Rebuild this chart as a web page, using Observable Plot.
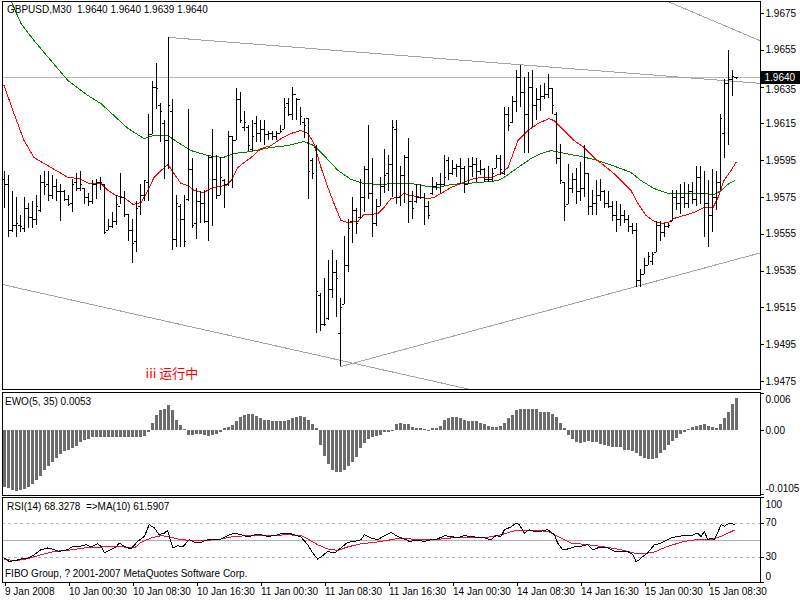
<!DOCTYPE html>
<html><head><meta charset="utf-8">
<script src="https://cdn.jsdelivr.net/npm/d3@7"></script>
<script src="https://cdn.jsdelivr.net/npm/@observablehq/plot@0.6"></script>
<style>
html,body{margin:0;padding:0;background:#fff;}
#chart{position:relative;width:800px;height:600px;background:#fff;overflow:hidden;font-family:'Liberation Sans',Arial,sans-serif;}
#chart svg{position:absolute;left:0;shape-rendering:crispEdges;}
.lbl{position:absolute;font-size:10px;line-height:12px;white-space:pre;color:#000;}
</style></head>
<body><div id="chart"></div>
<script>
// ---------- DATA ----------
const open = [
1.9585,1.9582,1.9557,1.9560,1.9560,1.9558,1.9569,1.9564,1.9563,1.9568,
1.9583,1.9582,1.9576,1.9581,1.9578,1.9578,1.9574,1.9572,1.9583,1.9580,
1.9580,1.9575,1.9573,1.9582,1.9583,1.9582,1.9557,1.9559,1.9562,1.9570,
1.9575,1.9566,1.9557,1.9551,1.9570,1.9576,1.9583,1.9609,1.9635,1.9625,
1.9615,1.9606,1.9622,1.9552,1.9570,1.9563,1.9574,1.9590,1.9561,1.9573,
1.9572,1.9562,1.9597,1.9585,1.9576,1.9584,1.9582,1.9608,1.9606,1.9628,
1.9613,1.9613,1.9601,1.9615,1.9610,1.9612,1.9609,1.9610,1.9608,1.9610,
1.9612,1.9626,1.9620,1.9631,1.9628,1.9616,1.9618,1.9595,1.9602,1.9522,
1.9506,1.9509,1.9525,1.9534,1.9501,1.9517,1.9538,1.9562,1.9568,1.9564,
1.9575,1.9590,1.9577,1.9561,1.9570,1.9581,1.9588,1.9593,1.9612,1.9575,
1.9587,1.9597,1.9573,1.9573,1.9575,1.9575,1.9570,1.9577,1.9581,1.9582,
1.9582,1.9595,1.9588,1.9591,1.9592,1.9591,1.9582,1.9592,1.9593,1.9589,
1.9590,1.9585,1.9585,1.9591,1.9596,1.9588,1.9620,1.9616,1.9627,1.9640,
1.9632,1.9620,1.9635,1.9625,1.9628,1.9630,1.9631,1.9634,1.9620,1.9596,
1.9583,1.9571,1.9580,1.9585,1.9578,1.9580,1.9588,1.9570,1.9572,1.9576,
1.9578,1.9572,1.9570,1.9565,1.9563,1.9565,1.9563,1.9559,1.9557,1.9530,
1.9533,1.9538,1.9540,1.9545,1.9560,1.9556,1.9559,1.9562,1.9575,1.9572,
1.9575,1.9572,1.9578,1.9574,1.9586,1.9577,1.9572,1.9565,1.9575,1.9583,
1.9610,1.9637,1.9639,1.9640];
const high = [
1.9589,1.9587,1.9578,1.9575,1.9565,1.9575,1.9572,1.9573,1.9576,1.9587,
1.9589,1.9589,1.9587,1.9585,1.9582,1.9579,1.9576,1.9585,1.9588,1.9589,
1.9580,1.9577,1.9584,1.9585,1.9586,1.9582,1.9563,1.9567,1.9576,1.9588,
1.9578,1.9566,1.9563,1.9573,1.9582,1.9584,1.9620,1.9638,1.9648,1.9626,
1.9617,1.9662,1.9628,1.9576,1.9571,1.9576,1.9623,1.9596,1.9580,1.9578,
1.9579,1.9598,1.9612,1.9598,1.9597,1.9585,1.9611,1.9608,1.9634,1.9632,
1.9622,1.9614,1.9617,1.9619,1.9617,1.9617,1.9611,1.9611,1.9611,1.9614,
1.9629,1.9629,1.9635,1.9629,1.9624,1.9618,1.9618,1.9596,1.9603,1.9523,
1.9531,1.9541,1.9546,1.9541,1.9520,1.9554,1.9563,1.9575,1.9569,1.9585,
1.9592,1.9614,1.9596,1.9574,1.9586,1.9601,1.9598,1.9617,1.9617,1.9592,
1.9598,1.9607,1.9578,1.9582,1.9582,1.9577,1.9573,1.9586,1.9583,1.9588,
1.9598,1.9597,1.9595,1.9593,1.9596,1.9592,1.9596,1.9597,1.9596,1.9595,
1.9591,1.9592,1.9591,1.9598,1.9598,1.9624,1.9624,1.9630,1.9644,1.9647,
1.9640,1.9643,1.9644,1.9634,1.9636,1.9637,1.9642,1.9634,1.9621,1.9604,
1.9583,1.9593,1.9588,1.9591,1.9594,1.9603,1.9588,1.9579,1.9584,1.9585,
1.9579,1.9578,1.9573,1.9573,1.9571,1.9568,1.9565,1.9561,1.9561,1.9536,
1.9542,1.9545,1.9545,1.9562,1.9562,1.9561,1.9561,1.9579,1.9579,1.9582,
1.9583,1.9582,1.9583,1.9592,1.9592,1.9589,1.9584,1.9590,1.9589,1.9620,
1.9639,1.9655,1.9644,1.9640];
const low = [
1.9569,1.9553,1.9556,1.9553,1.9556,1.9556,1.9558,1.9558,1.9560,1.9567,
1.9576,1.9573,1.9574,1.9573,1.9562,1.9573,1.9570,1.9567,1.9578,1.9578,
1.9571,1.9570,1.9571,1.9574,1.9579,1.9555,1.9557,1.9558,1.9560,1.9571,
1.9564,1.9551,1.9539,1.9545,1.9565,1.9573,1.9573,1.9609,1.9623,1.9605,
1.9585,1.9590,1.9546,1.9548,1.9548,1.9548,1.9573,1.9558,1.9552,1.9561,
1.9561,1.9551,1.9559,1.9574,1.9576,1.9569,1.9581,1.9580,1.9606,1.9615,
1.9611,1.9600,1.9600,1.9605,1.9605,1.9603,1.9606,1.9606,1.9606,1.9610,
1.9612,1.9619,1.9617,1.9617,1.9614,1.9607,1.9574,1.9585,1.9501,1.9502,
1.9505,1.9508,1.9520,1.9510,1.9483,1.9517,1.9534,1.9550,1.9555,1.9563,
1.9567,1.9574,1.9553,1.9559,1.9570,1.9577,1.9578,1.9575,1.9571,1.9570,
1.9572,1.9561,1.9563,1.9572,1.9574,1.9560,1.9563,1.9576,1.9579,1.9577,
1.9581,1.9584,1.9587,1.9586,1.9582,1.9577,1.9582,1.9586,1.9583,1.9587,
1.9583,1.9583,1.9583,1.9591,1.9587,1.9587,1.9611,1.9615,1.9621,1.9624,
1.9599,1.9599,1.9613,1.9617,1.9622,1.9628,1.9629,1.9620,1.9593,1.9582,
1.9562,1.9571,1.9577,1.9571,1.9573,1.9575,1.9565,1.9565,1.9565,1.9573,
1.9569,1.9569,1.9562,1.9556,1.9559,1.9561,1.9556,1.9555,1.9526,1.9526,
1.9533,1.9538,1.9538,1.9545,1.9551,1.9553,1.9558,1.9562,1.9568,1.9566,
1.9569,1.9569,1.9571,1.9570,1.9571,1.9553,1.9548,1.9556,1.9568,1.9579,
1.9596,1.9603,1.9630,1.9639];
const close = [
1.9582,1.9557,1.9560,1.9561,1.9559,1.9569,1.9564,1.9563,1.9570,1.9583,
1.9581,1.9576,1.9581,1.9578,1.9578,1.9574,1.9571,1.9582,1.9580,1.9582,
1.9575,1.9573,1.9582,1.9583,1.9583,1.9556,1.9559,1.9562,1.9571,1.9575,
1.9566,1.9557,1.9550,1.9569,1.9576,1.9584,1.9609,1.9635,1.9634,1.9622,
1.9606,1.9625,1.9552,1.9572,1.9563,1.9551,1.9590,1.9560,1.9573,1.9572,
1.9562,1.9597,1.9585,1.9576,1.9586,1.9582,1.9608,1.9606,1.9628,1.9617,
1.9616,1.9603,1.9608,1.9610,1.9612,1.9609,1.9610,1.9608,1.9610,1.9611,
1.9624,1.9620,1.9631,1.9628,1.9619,1.9614,1.9589,1.9588,1.9524,1.9506,
1.9506,1.9525,1.9534,1.9531,1.9515,1.9538,1.9558,1.9568,1.9561,1.9575,
1.9590,1.9577,1.9561,1.9570,1.9581,1.9587,1.9593,1.9613,1.9575,1.9587,
1.9597,1.9573,1.9569,1.9575,1.9575,1.9570,1.9565,1.9581,1.9582,1.9582,
1.9586,1.9588,1.9591,1.9592,1.9591,1.9582,1.9592,1.9593,1.9589,1.9590,
1.9585,1.9585,1.9588,1.9596,1.9590,1.9620,1.9614,1.9627,1.9640,1.9632,
1.9620,1.9635,1.9625,1.9628,1.9630,1.9631,1.9634,1.9625,1.9596,1.9584,
1.9570,1.9580,1.9585,1.9578,1.9580,1.9588,1.9570,1.9572,1.9576,1.9578,
1.9572,1.9570,1.9565,1.9563,1.9565,1.9563,1.9559,1.9557,1.9530,1.9533,
1.9538,1.9543,1.9544,1.9560,1.9556,1.9559,1.9560,1.9575,1.9572,1.9575,
1.9572,1.9578,1.9574,1.9586,1.9577,1.9572,1.9565,1.9575,1.9583,1.9618,
1.9637,1.9639,1.9641,1.9640];

const maRedIdx = [0,2.5,5,7.5,11.75,16,18.75,21.25,24.25,26,28,30,32.25,34.25,36,37.5,39.25,41,42.5,44.25,46,47.5,50,51.75,53.5,55.5,56.75,58.5,60,61.75,64.25,66.75,69.25,71.75,74.25,76,77.5,79.25,81,82.5,84.25,86,88.5,90,91.75,93.5,95,96.75,98.5,100,101.75,104.25,106,107.5,109.25,111.75,114.25,116.75,119.25,121.75,124.25,126,128.5,131,133.5,136.25,137.5,140,142.5,145,147.5,150,152.5,155,156.75,158.5,160.5,162.25,164.25,166,167.5,170,172.5,175,177.25,178.5,180,181.75,183];
const maRedVal = [1.96359,1.96206,1.96060,1.95967,1.95913,1.95859,1.95853,1.95826,1.95826,1.95788,1.95761,1.95750,1.95712,1.95723,1.95788,1.95859,1.95897,1.95929,1.95880,1.95826,1.95815,1.95788,1.95777,1.95799,1.95810,1.95815,1.95842,1.95913,1.95940,1.95967,1.96016,1.96032,1.96070,1.96098,1.96114,1.96098,1.96043,1.95913,1.95804,1.95717,1.95625,1.95614,1.95620,1.95658,1.95658,1.95663,1.95696,1.95745,1.95750,1.95772,1.95761,1.95750,1.95745,1.95750,1.95772,1.95804,1.95826,1.95848,1.95859,1.95859,1.95880,1.95913,1.96060,1.96114,1.96152,1.96179,1.96168,1.96114,1.96060,1.96022,1.95967,1.95924,1.95880,1.95826,1.95788,1.95717,1.95652,1.95625,1.95609,1.95614,1.95636,1.95652,1.95669,1.95696,1.95696,1.95750,1.95842,1.95897,1.95940];
const maGreenIdx = [1.75,4.25,7.5,11.75,16,21,24.25,27.5,31,35,37.5,41,43.5,46.75,51,54.75,57.5,61.75,66.75,71,75,77.5,80,83.5,86.75,90,94.25,97.5,101.75,106,108.5,111.75,115,118.5,123.5,125,128.5,131.75,134.25,136.75,139.25,144.25,148.5,153.5,156.75,159.25,162.5,166,169.25,175,177.5,179.25,181.25,182.75];
const maGreenVal = [1.96820,1.96695,1.96603,1.96494,1.96385,1.96304,1.96260,1.96195,1.96125,1.96070,1.96087,1.96087,1.96049,1.96005,1.95978,1.95967,1.95989,1.96000,1.96022,1.96032,1.96054,1.96032,1.95978,1.95897,1.95848,1.95826,1.95821,1.95826,1.95826,1.95810,1.95804,1.95821,1.95826,1.95831,1.95842,1.95859,1.95913,1.95962,1.95989,1.96005,1.95994,1.95973,1.95951,1.95913,1.95886,1.95842,1.95799,1.95772,1.95772,1.95772,1.95766,1.95788,1.95826,1.95842];

const trendX1 = [41, 160, -1, 84];
const trendY1 = [1.9662, 1.9687, 1.9528, 1.9483];
const trendX2 = [189.25, 189.25, 120, 189.25];
const trendY2 = [1.9637, 1.9660, 1.9469, 1.9545];

const lastPrice = 1.9640;
const priceTicks = [1.9475,1.9495,1.9515,1.9535,1.9555,1.9575,1.9595,1.9615,1.9635,1.9655,1.9675];

const ewo = [
-0.0093,-0.0095,-0.0098,-0.0099,-0.0098,-0.0096,-0.0093,-0.0088,-0.0082,-0.0075,
-0.0066,-0.0059,-0.0052,-0.0045,-0.0039,-0.0035,-0.0032,-0.0029,-0.0026,-0.0020,
-0.0016,-0.0014,-0.0012,-0.0011,-0.0011,-0.0011,-0.0011,-0.0012,-0.0012,-0.0012,
-0.0012,-0.0012,-0.0012,-0.0011,-0.0012,-0.0010,-0.0004,0.0012,0.0025,0.0032,
0.0035,0.0041,0.0032,0.0017,0.0008,0.0001,-0.0008,-0.0008,-0.0007,-0.0007,
-0.0008,-0.0010,-0.0008,-0.0007,-0.0004,0.0003,0.0005,0.0008,0.0015,0.0022,
0.0025,0.0026,0.0026,0.0023,0.0019,0.0017,0.0016,0.0015,0.0014,0.0014,
0.0015,0.0016,0.0019,0.0022,0.0023,0.0021,0.0016,0.0009,0.0003,-0.0025,
-0.0042,-0.0055,-0.0065,-0.0069,-0.0069,-0.0065,-0.0059,-0.0052,-0.0044,-0.0030,
-0.0022,-0.0014,-0.0011,-0.0009,-0.0008,-0.0004,-0.0003,-0.0001,0.0010,0.0012,
0.0010,0.0010,0.0005,0.0004,0.0003,0.0001,-0.0001,0.0003,0.0004,0.0007,
0.0016,0.0019,0.0021,0.0021,0.0019,0.0016,0.0015,0.0015,0.0014,0.0012,
0.0010,0.0007,0.0005,0.0005,0.0007,0.0011,0.0019,0.0025,0.0032,0.0034,
0.0034,0.0035,0.0035,0.0034,0.0030,0.0030,0.0030,0.0026,0.0021,0.0012,
0.0004,-0.0008,-0.0015,-0.0020,-0.0022,-0.0019,-0.0018,-0.0019,-0.0020,-0.0023,
-0.0025,-0.0026,-0.0027,-0.0028,-0.0028,-0.0032,-0.0033,-0.0035,-0.0038,-0.0043,
-0.0046,-0.0047,-0.0047,-0.0045,-0.0038,-0.0032,-0.0025,-0.0018,-0.0013,-0.0007,
-0.0003,0.0001,0.0005,0.0007,0.0008,0.0010,0.0007,0.0005,0.0004,0.0010,
0.0019,0.0030,0.0043,0.0053];
const ewoTicks = [0.006, 0, -0.0105];
const ewoTickLabels = ["0.006", "0.00", "-0.0105"];

const rsiIdx = [0.1,1.3,3,4.25,5.9,7.6,9.25,10.9,12.6,13.8,15.9,17.2,18.8,20.5,21.75,23.4,24.25,25.1,26.75,28,28.8,30.1,31.75,33.4,35.1,36.3,37.6,38.8,40.1,40.9,42.2,43.4,44.7,46.3,47.6,49.25,50.9,52.6,54.25,55.9,57.6,59.25,60.9,62.6,64.25,65.9,67.6,69.25,70.9,72.6,74.25,75.9,77.2,78.4,79.7,80.9,82.6,84.25,85.9,87.6,89.25,90.1,91.75,93.4,95.1,96.75,98.4,99.25,100.5,101.3,103.4,105.1,106.75,108.4,110.1,111.75,113.4,115.1,116.75,118.4,120.1,121.75,123,124.25,125.1,126.75,128,128.8,130.1,131.3,132.6,134.25,135.9,137.6,138.4,139.7,140.9,142.6,144.25,145.9,147.2,148.4,150.9,152.6,154.25,155.9,157.2,158,158.8,159.7,160.9,162.6,163.8,165.1,166.75,168.4,170.1,171.75,173.4,174.25,175.1,175.9,176.75,177.6,178.4,179.25,180.1,181.3,182.6];
const rsiVal = [28.8,24.8,26,27.6,28.8,32.7,38.6,40.6,38.6,36.6,38.6,42.5,42.5,44.5,41.8,45.6,42.5,34.7,38.6,41.8,46.5,42.5,39.4,48.4,54.2,68,64.1,56.2,58.2,61.3,40.6,43.3,41.8,50.4,47.2,47.2,50.4,50.4,51.2,55.1,58.2,56.2,53.5,55.9,56.2,54.2,55.1,57.4,58.2,56.2,53.5,44.5,34.7,27.6,31.5,36.6,34.7,40.6,47.2,48.4,50.4,56.2,52.4,50.4,55.1,59,54.2,52.4,50.4,48.4,49.6,48.4,50.4,51.2,55.1,54.2,52.4,55.1,54.2,53.1,52.4,50.4,55.1,54.2,62.1,65.3,70,68,58.2,62.1,60.2,60.2,62.1,56.2,46.5,38.6,39.4,41.8,42.5,44.5,38.6,40.6,40.6,36.6,36.6,36.6,32.7,24.8,26.8,30.6,34.7,44.5,45.6,48.4,52.4,54.2,55.1,55.1,58.2,54.2,60.2,50.4,52.4,50.4,58.2,68,66.1,70,68.3];
const rsiMaIdx = [0.1,3.4,5.9,9.25,12.6,15.9,20.1,24.25,28.4,32.6,34.25,36.75,39.25,40.9,44.25,47.6,50.9,54.25,57.6,60.9,65.9,70.9,74.25,75.9,78.4,80.9,83.4,85.9,89.25,92.6,95.9,99.25,103.4,107.6,111.75,115.9,120.1,124.25,128,132.6,135.9,138.4,141.75,145.9,149.25,154.25,157.6,160.1,162.6,165.9,170.1,174.25,176.75,179.25,182.6];
const rsiMaVal = [26.8,26,28,32.7,36.6,37.8,40.6,41.8,42.5,40.6,47.2,52.4,55.1,54.2,50.4,49.2,49.6,51.2,54.2,55.1,55.1,56.2,55.1,51.2,44.5,39.4,37.8,41.8,45.6,47.2,49.6,52.4,50.4,50.4,52.4,53.5,52.4,56.2,61.3,61.3,60.2,54.2,46.5,44.5,42.5,38.6,34.7,34,35.9,42.5,48.4,51.2,50.4,54.2,61.6];
const rsiLevels = [70, 30];
const rsiMid = 50;

const timeIdx = [0,16,32,48,64,80,96,112,128,144,160,176];
const timeLabels = ["9 Jan 2008","10 Jan 00:30","10 Jan 08:30","10 Jan 16:30","11 Jan 00:30","11 Jan 08:30","11 Jan 16:30","14 Jan 00:30","14 Jan 08:30","14 Jan 16:30","15 Jan 00:30","15 Jan 08:30"];

const headerText = "GBPUSD,M30  1.9640 1.9640 1.9639 1.9640";
const ewoHeader = "EWO(5, 35) 0.0053";
const rsiHeader = "RSI(14) 68.3278  =>MA(10) 61.5907";
const copyright = "FIBO Group, ? 2001-2007 MetaQuotes Software Corp.";
const note = "iii 运行中";

// ---------- BUILD ----------
const FONT = "'Liberation Sans', Arial, sans-serif";
const xDomain = [-0.375, 189.125];
const bars = high.map((h, i) => ({i, o: open[i], h, l: low[i], c: close[i]}));
const redMA = maRedIdx.map((x, k) => ({x, y: maRedVal[k]}));
const greenMA = maGreenIdx.map((x, k) => ({x, y: maGreenVal[k]}));
const trends = trendX1.map((x, k) => ({x1: x, y1: trendY1[k], x2: trendX2[k], y2: trendY2[k]}));
const ewoData = ewo.map((v, i) => ({i, v}));
const rsiData = rsiIdx.map((x, k) => ({x, y: rsiVal[k]}));
const rsiMaData = rsiMaIdx.map((x, k) => ({x, y: rsiMaVal[k]}));
const timeMap = new Map(timeIdx.map((d, k) => [d, timeLabels[k]]));
const priceTicksMain = priceTicks.filter(t => Math.abs(t - 1.9635) > 1e-9);
const priceTickNearTag = priceTicks.filter(t => Math.abs(t - 1.9635) <= 1e-9);

const baseStyle = {fontFamily: FONT, fontSize: "10px", color: "black", background: "transparent", overflow: "visible"};

const main = Plot.plot({
  width: 800, height: 390,
  marginLeft: 2, marginRight: 40, marginTop: 1, marginBottom: 1,
  style: baseStyle,
  x: {domain: xDomain, axis: null},
  y: {domain: [1.947065, 1.968152], axis: null},
  marks: [
    Plot.ruleY([lastPrice], {stroke: "#b8b8b8"}),
    Plot.link(trends, {x1: "x1", y1: "y1", x2: "x2", y2: "y2", stroke: "#a4a4a4", clip: true}),
    Plot.line(greenMA, {x: "x", y: "y", stroke: "#008000", strokeWidth: 1, clip: true}),
    Plot.line(redMA, {x: "x", y: "y", stroke: "#ff0000", strokeWidth: 1, clip: true}),
    Plot.ruleX(bars, {x: "i", y1: "l", y2: "h", stroke: "black", strokeWidth: 1}),
    Plot.link(bars, {x1: d => d.i - 0.5, x2: "i", y1: "o", y2: "o", stroke: "black"}),
    Plot.link(bars, {x1: "i", x2: d => d.i + 0.5, y1: "c", y2: "c", stroke: "black"}),
    Plot.text([note], {x: 35.4, y: 1.94793, text: d => d, fill: "red", fontSize: 13, fontFamily: "'Noto Sans CJK SC', sans-serif", textAnchor: "start"}),
    Plot.axisY({anchor: "right", ticks: priceTicks, tickFormat: () => "", tickSize: 3, label: null}),
    Plot.text(priceTicksMain, {y: d => d, frameAnchor: "right", dx: 5, textAnchor: "start", text: d => d.toFixed(4), fontSize: 10}),
    Plot.text(priceTickNearTag, {y: d => d, frameAnchor: "right", dx: 5, dy: 3, textAnchor: "start", text: d => d.toFixed(4), fontSize: 10}),
    Plot.rect([lastPrice], {x1: 189.3, x2: 199.6, y1: d => d - 0.00035, y2: d => d + 0.00035, fill: "black"}),
    Plot.text([lastPrice], {y: d => d, frameAnchor: "right", dx: 4, textAnchor: "start", fill: "white", text: d => d.toFixed(4), fontSize: 10}),
    Plot.frame({stroke: "black"})
  ]
});

const ewoPlot = Plot.plot({
  width: 800, height: 106,
  marginLeft: 2, marginRight: 40, marginTop: 2, marginBottom: 1,
  style: baseStyle,
  x: {domain: xDomain, axis: null},
  y: {domain: [-0.010621, 0.006209], axis: null},
  marks: [
    Plot.ruleX(ewoData, {x: "i", y1: 0, y2: "v", stroke: "#6c6c6c", strokeWidth: 3}),
    Plot.axisY({anchor: "right", ticks: ewoTicks, tickFormat: () => "", tickSize: 3, label: null}),
    ...ewoTicks.map((t, k) => Plot.text([t], {y: d => d, frameAnchor: "right", dx: 5, dy: k === 0 ? 6 : (k === 2 ? -6 : 0), textAnchor: "start", text: () => ewoTickLabels[k], fontSize: 10})),
    Plot.frame({stroke: "black"})
  ]
});

const rsiPlot = Plot.plot({
  width: 800, height: 105,
  marginLeft: 2, marginRight: 40, marginTop: 2, marginBottom: 18,
  style: baseStyle,
  x: {domain: xDomain, axis: null},
  y: {domain: [0, 100], axis: null},
  marks: [
    Plot.ruleY(rsiLevels, {stroke: "#b8b8b8", strokeDasharray: "3,3"}),
    Plot.ruleY([rsiMid], {stroke: "#b0b0b0"}),
    Plot.line(rsiMaData, {x: "x", y: "y", stroke: "#e8103c", strokeWidth: 1}),
    Plot.line(rsiData, {x: "x", y: "y", stroke: "black", strokeWidth: 1}),
    Plot.axisY({anchor: "right", ticks: [100, 70, 30, 0], tickFormat: () => "", tickSize: 3, label: null}),
    Plot.text([100], {y: d => d, frameAnchor: "right", dx: 5, dy: 7, textAnchor: "start", text: d => String(d), fontSize: 10}),
    Plot.text(rsiLevels, {y: d => d, frameAnchor: "right", dx: 5, textAnchor: "start", text: d => String(d), fontSize: 10}),
    Plot.text([0], {y: d => d, frameAnchor: "right", dx: 5, dy: -6, textAnchor: "start", text: d => String(d), fontSize: 10}),
    Plot.axisX({ticks: timeIdx, tickFormat: d => timeMap.get(d), textAnchor: "start", tickSize: 4, tickPadding: 1, dx: 1, fontSize: 10, label: null}),
    Plot.frame({stroke: "black"})
  ]
});

const chart = document.getElementById("chart");
[[main, 0], [ewoPlot, 390], [rsiPlot, 495]].forEach(([svg, top]) => {
  svg.style.top = top + "px";
  chart.appendChild(svg);
});
function addLabel(text, left, top) {
  const d = document.createElement("div");
  d.className = "lbl";
  d.textContent = text;
  d.style.left = left + "px";
  d.style.top = top + "px";
  chart.appendChild(d);
}
addLabel(headerText, 7, 4);
addLabel(ewoHeader, 5, 396);
addLabel(rsiHeader, 7, 501);
addLabel(copyright, 5, 568);
</script>
</body></html>
